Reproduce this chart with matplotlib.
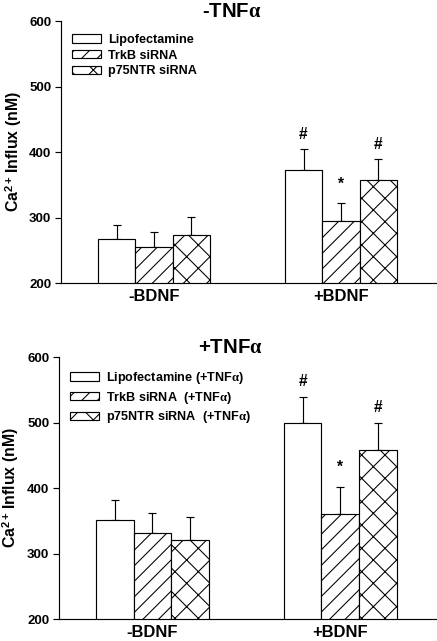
import matplotlib.pyplot as plt
import numpy as np

plt.rcParams['font.family'] = ['Liberation Sans', 'DejaVu Sans']
plt.rcParams['font.weight'] = 'bold'
plt.rcParams['mathtext.fontset'] = 'custom'
plt.rcParams['mathtext.rm'] = 'Liberation Sans:bold'
plt.rcParams['mathtext.bf'] = 'Liberation Sans:bold'
plt.rcParams['mathtext.it'] = 'Liberation Serif'
plt.rcParams['hatch.linewidth'] = 0.55

groups = ['-BDNF', '+BDNF']

# panel 1 : -TNFa
lipo1 = [267, 372]
trkb1 = [255, 294]
p75_1 = [274, 357]
lipo1_err = [21, 32]
trkb1_err = [23, 28]
p75_1_err = [27, 32]
marks1 = [['', '#'], ['', '*'], ['', '#']]
labels1 = ['Lipofectamine', 'TrkB siRNA', 'p75NTR siRNA']

# panel 2 : +TNFa
lipo2 = [351, 499]
trkb2 = [331, 361]
p75_2 = [320, 458]
lipo2_err = [30, 40]
trkb2_err = [31, 41]
p75_2_err = [35, 41]
marks2 = [['', '#'], ['', '*'], ['', '#']]
labels2 = [r'Lipofectamine (+TNF$\alpha$)', r'TrkB siRNA  (+TNF$\alpha$)', r'p75NTR siRNA  (+TNF$\alpha$)']

dpi = 140
fig = plt.figure(figsize=(437/dpi, 641/dpi), dpi=dpi)
ax1 = fig.add_axes([0.1396, 0.5585, 0.858, 0.4087])
ax2 = fig.add_axes([0.1350, 0.0343, 0.862, 0.4087])

hatches = ['', '///', 'xx']
w = 0.2
x = np.arange(len(groups))


def panel(ax, vals, errs, marks, labels, title):
    for i in range(3):
        pos = x + (i - 1) * w
        ax.bar(pos, vals[i], w, bottom=0, color='white', edgecolor='black',
               linewidth=0.6, hatch=hatches[i], label=labels[i], zorder=2)
        ax.errorbar(pos, vals[i], yerr=[np.zeros(len(groups)), errs[i]], fmt='none',
                    ecolor='black', elinewidth=0.6, capsize=1.9, capthick=0.6, zorder=1)
        for j in range(len(groups)):
            if marks[i][j]:
                off = 7.5 if marks[i][j] == '*' else 5.5
                ax.annotate(marks[i][j], (pos[j], vals[i][j] + errs[i][j]),
                            xytext=(0, off), textcoords='offset points',
                            ha='center', va='baseline', fontsize=8, fontweight='bold')
    ax.set_ylim(200, 600)
    ax.set_xlim(-0.497, 1.508)
    ax.set_yticks([200, 300, 400, 500, 600])
    ax.set_xticks(x)
    ax.set_xticklabels(groups, fontsize=8.5, fontweight='bold')
    ax.tick_params(axis='x', length=0, pad=3)
    ax.tick_params(axis='y', labelsize=6.8, length=3, width=0.6, pad=2)
    ax.spines['top'].set_visible(False)
    ax.spines['right'].set_visible(False)
    ax.spines['left'].set_linewidth(0.6)
    ax.spines['bottom'].set_linewidth(0.6)
    ax.set_ylabel(r'Ca$^{2+}\,$Influx (nM)', fontsize=8.2, fontweight='bold')
    ax.yaxis.set_label_coords(-0.100, 0.5)
    ax.set_title(title, fontsize=10.5, fontweight='bold', x=0.456, pad=2)
    ax.legend(loc='upper left', bbox_to_anchor=(0.01, 0.98), frameon=False,
              fontsize=6.5, handlelength=2.3, handleheight=0.65, labelspacing=0.3,
              handletextpad=0.5, borderaxespad=0.2)


panel(ax1, [lipo1, trkb1, p75_1], [lipo1_err, trkb1_err, p75_1_err], marks1, labels1, r'-TNF$\alpha$')
panel(ax2, [lipo2, trkb2, p75_2], [lipo2_err, trkb2_err, p75_2_err], marks2, labels2, r'+TNF$\alpha$')

fig.savefig('out.png', dpi=dpi)
